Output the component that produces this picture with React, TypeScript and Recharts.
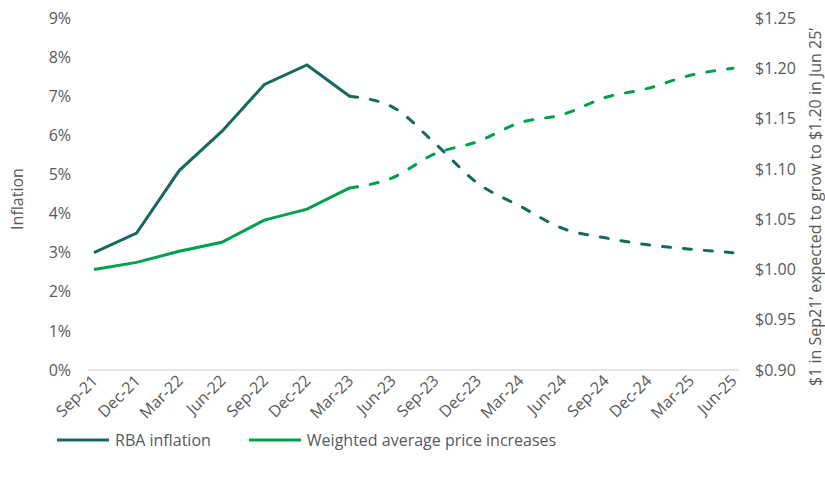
import { LineChart, Line, XAxis, YAxis } from 'recharts';

const CATEGORIES = [
  'Sep-21', 'Dec-21', 'Mar-22', 'Jun-22', 'Sep-22', 'Dec-22', 'Mar-23', 'Jun-23',
  'Sep-23', 'Dec-23', 'Mar-24', 'Jun-24', 'Sep-24', 'Dec-24', 'Mar-25', 'Jun-25',
];

// RBA inflation, % (solid = actual, dashed = forecast; Mar-23 in both so they join)
const RBA_ACTUAL = [3.0, 3.5, 5.1, 6.1, 7.3, 7.8, 7.0, null, null, null, null, null, null, null, null, null];
const RBA_FORECAST = [null, null, null, null, null, null, 7.0, 6.73, 5.8, 4.78, 4.19, 3.62, 3.38, 3.2, 3.09, 3.0];

// $1 in Sep-21 grown by weighted average price increases
const PRICE_ACTUAL = [1.0, 1.007, 1.018, 1.027, 1.049, 1.06, 1.081, null, null, null, null, null, null, null, null, null];
const PRICE_FORECAST = [null, null, null, null, null, null, 1.081, 1.091, 1.115, 1.127, 1.146, 1.154, 1.171, 1.18, 1.193, 1.2];

const LEFT_TICKS = [0, 1, 2, 3, 4, 5, 6, 7, 8, 9];
const RIGHT_TICKS = [0.9, 0.95, 1.0, 1.05, 1.1, 1.15, 1.2, 1.25];

const LEGEND_ITEMS = [
  { label: 'RBA inflation', color: '#17695b' },
  { label: 'Weighted average price increases', color: '#00a04e' },
];

const DARK = '#17695b';
const GREEN = '#00a04e';
const TEXT = '#595959';
const FONT = '"Open Sans", sans-serif';
const DASH = '8 13';

const data = CATEGORIES.map((month, i) => ({
  month,
  rbaActual: RBA_ACTUAL[i],
  rbaForecast: RBA_FORECAST[i],
  priceActual: PRICE_ACTUAL[i],
  priceForecast: PRICE_FORECAST[i],
}));

const XTick = ({ x, y, payload }: any) => (
  <g transform={`translate(${x + 2},${y + 1})`}>
    <text
      x={0}
      y={0}
      dy={4}
      textAnchor="end"
      transform="rotate(-45)"
      fill={TEXT}
      fontSize={16}
      fontFamily={FONT}
    >
      {payload.value}
    </text>
  </g>
);

const leftLabel = ({ viewBox }: any) => {
  const x = viewBox.x + 17;
  const y = viewBox.y + viewBox.height / 2 + 5;
  return (
    <text
      x={x}
      y={y}
      transform={`rotate(-90, ${x}, ${y})`}
      textAnchor="middle"
      dominantBaseline="central"
      fill={TEXT}
      fontSize={16}
      fontFamily={FONT}
    >
      Inflation
    </text>
  );
};

const rightLabel = ({ viewBox }: any) => {
  const x = viewBox.x + 76;
  const y = viewBox.y + viewBox.height / 2 + 13;
  return (
    <text
      x={x}
      y={y}
      transform={`rotate(-90, ${x}, ${y})`}
      textAnchor="middle"
      dominantBaseline="central"
      fill={TEXT}
      fontSize={16}
      fontFamily={FONT}
    >
      $1 in Sep21’ expected to grow to $1.20 in Jun 25’
    </text>
  );
};

// legend drawn as a plain row under the chart (Recharts' Legend kept jumping around)
const ChartLegend = () => (
  <div
    style={{
      position: 'absolute',
      left: 0,
      top: 430,
      width: 825,
      display: 'flex',
      alignItems: 'center',
      height: 20,
      paddingLeft: 57,
      boxSizing: 'border-box',
      fontFamily: FONT,
      fontSize: 16,
      color: TEXT,
    }}
  >
    {LEGEND_ITEMS.map((item) => (
      <div key={item.label} style={{ display: 'flex', alignItems: 'center', marginRight: 38 }}>
        <svg width={52} height={4} style={{ marginRight: 6 }}>
          <line x1={0} y1={2} x2={52} y2={2} stroke={item.color} strokeWidth={3} />
        </svg>
        <span>{item.label}</span>
      </div>
    ))}
  </div>
);

export default function App() {
  return (
    <div style={{ position: 'absolute', left: 0, top: 0, width: 825, height: 478, background: '#fff' }}>
      <LineChart width={825} height={478} data={data} margin={{ top: 18, right: 0, left: 0, bottom: 48 }}>
        <XAxis
          dataKey="month"
          interval={0}
          tick={<XTick />}
          tickLine={false}
          axisLine={{ stroke: '#d9dde2', strokeWidth: 1.5 }}
          height={60}
          padding={{ left: 6, right: 6 }}
        />
        <YAxis
          yAxisId="left"
          domain={[0, 9]}
          ticks={LEFT_TICKS}
          tickFormatter={(v: number) => `${v}%`}
          axisLine={false}
          tickLine={false}
          width={88}
          tickMargin={11}
          tick={{ fill: TEXT, fontSize: 16, fontFamily: FONT }}
          label={leftLabel}
        />
        <YAxis
          yAxisId="right"
          orientation="right"
          domain={[0.9, 1.25]}
          ticks={RIGHT_TICKS}
          tickFormatter={(v: number) => `$${v.toFixed(2)}`}
          axisLine={false}
          tickLine={false}
          width={86}
          tickMargin={10}
          tick={{ fill: TEXT, fontSize: 16, fontFamily: FONT }}
          label={rightLabel}
        />
        <Line yAxisId="left" type="linear" dataKey="rbaActual" stroke={DARK} strokeWidth={3} dot={false} isAnimationActive={false} />
        <Line yAxisId="left" type="monotone" dataKey="rbaForecast" stroke={DARK} strokeWidth={3} strokeDasharray={DASH} strokeLinecap="round" dot={false} isAnimationActive={false} />
        <Line yAxisId="right" type="linear" dataKey="priceActual" stroke={GREEN} strokeWidth={3} dot={false} isAnimationActive={false} />
        <Line yAxisId="right" type="monotone" dataKey="priceForecast" stroke={GREEN} strokeWidth={3} strokeDasharray={DASH} strokeLinecap="round" dot={false} isAnimationActive={false} />
      </LineChart>
      <ChartLegend />
    </div>
  );
}
